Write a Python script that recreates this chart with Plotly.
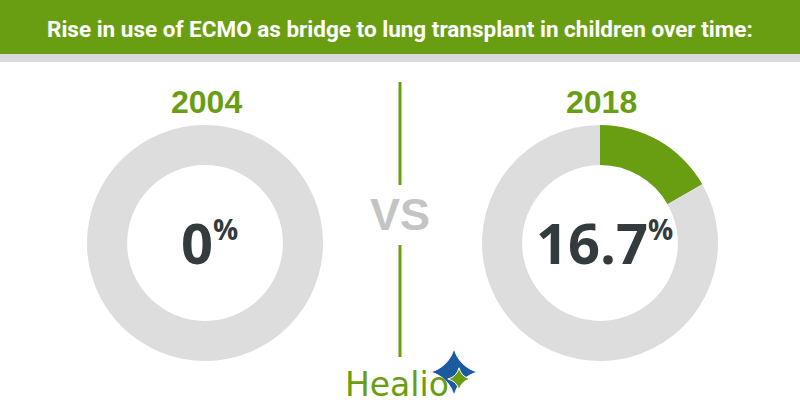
import plotly.graph_objects as go

# --- datos ---
title = "Rise in use of ECMO as bridge to lung transplant in children over time:"
years = ["2004", "2018"]
pct_ecmo = [0, 16.7]

GREEN = "#6a9e12"
GRAY_RING = "#dddddd"
DARK = "#343b3e"

W, H = 800, 420


def px_x(v):
    return v / W


def px_y(v):
    return 1 - v / H


fig = go.Figure()

# donuts (centro x en px: 205 y 600, centro y 243, radio 118)
centers = [205, 600]
for yr, p, cx in zip(years, pct_ecmo, centers):
    fig.add_trace(go.Pie(
        values=[p, 100 - p],
        labels=["ECMO", "otro"],
        marker=dict(colors=[GREEN, GRAY_RING], line=dict(width=0)),
        hole=0.66,
        sort=False,
        direction="clockwise",
        rotation=0,
        textinfo="none",
        hoverinfo="skip",
        showlegend=False,
        domain=dict(x=[px_x(cx - 118), px_x(cx + 118)],
                    y=[px_y(243 + 118), px_y(243 - 118)]),
    ))
    # año
    fig.add_annotation(
        x=px_x(cx + 1), y=px_y(102), xref="paper", yref="paper",
        xanchor="center", yanchor="middle",
        text=f"<b>{yr}</b>", showarrow=False,
        font=dict(family="Liberation Sans, Arial", size=32, color=GREEN),
    )
    # porcentaje central
    fig.add_annotation(
        x=px_x(cx + 4), y=px_y(242), xref="paper", yref="paper",
        xanchor="center", yanchor="middle",
        text=f"<b>{p:g}</b><sup><b><span style='font-size:28px'>%</span></b></sup>",
        showarrow=False,
        font=dict(family="Open Sans", size=56, color=DARK),
    )

# barra de título
fig.add_shape(type="rect", xref="paper", yref="paper",
              x0=0, x1=1, y0=px_y(54), y1=1,
              fillcolor=GREEN, line=dict(width=0), layer="below")
fig.add_shape(type="rect", xref="paper", yref="paper",
              x0=0, x1=1, y0=px_y(62), y1=px_y(54),
              fillcolor="#dadada", line=dict(width=0), layer="below")
fig.add_annotation(
    x=0.5, y=px_y(29), xref="paper", yref="paper",
    xanchor="center", yanchor="middle",
    text=f"<b>{title}</b>", showarrow=False,
    font=dict(family="Roboto", size=22.5, color="white"),
)

# línea vertical y VS
for y0, y1 in [(82, 185), (245, 357)]:
    fig.add_shape(type="line", xref="paper", yref="paper",
                  x0=0.5, x1=0.5, y0=px_y(y0), y1=px_y(y1),
                  line=dict(color=GREEN, width=3))
fig.add_annotation(
    x=0.5, y=px_y(215), xref="paper", yref="paper",
    xanchor="center", yanchor="middle",
    text="<b>VS</b>", showarrow=False,
    font=dict(family="Liberation Sans, Arial", size=45, color="#c4c4c4"),
)

# logo Healio
fig.add_annotation(
    x=px_x(343), y=px_y(384), xref="paper", yref="paper",
    xanchor="left", yanchor="middle",
    text="Healio", showarrow=False,
    font=dict(family="DejaVu Sans", size=33, color=GREEN),
)
fig.add_trace(go.Scatter(
    x=[px_x(454), px_x(459)], y=[px_y(372), px_y(379)], mode="markers",
    marker=dict(symbol="star-diamond", size=[34, 16], color=["#1c5aa0", GREEN],
                opacity=1, line=dict(color="white", width=1)),
    hoverinfo="skip", showlegend=False,
))

fig.update_layout(
    width=W, height=H,
    margin=dict(l=0, r=0, t=0, b=0),
    paper_bgcolor="white", plot_bgcolor="rgba(0,0,0,0)",
    xaxis=dict(range=[0, 1], visible=False, fixedrange=True),
    yaxis=dict(range=[0, 1], visible=False, fixedrange=True),
)

fig.write_html("out.html", config={"displayModeBar": False},
               post_script="document.body.style.margin='0px';")
